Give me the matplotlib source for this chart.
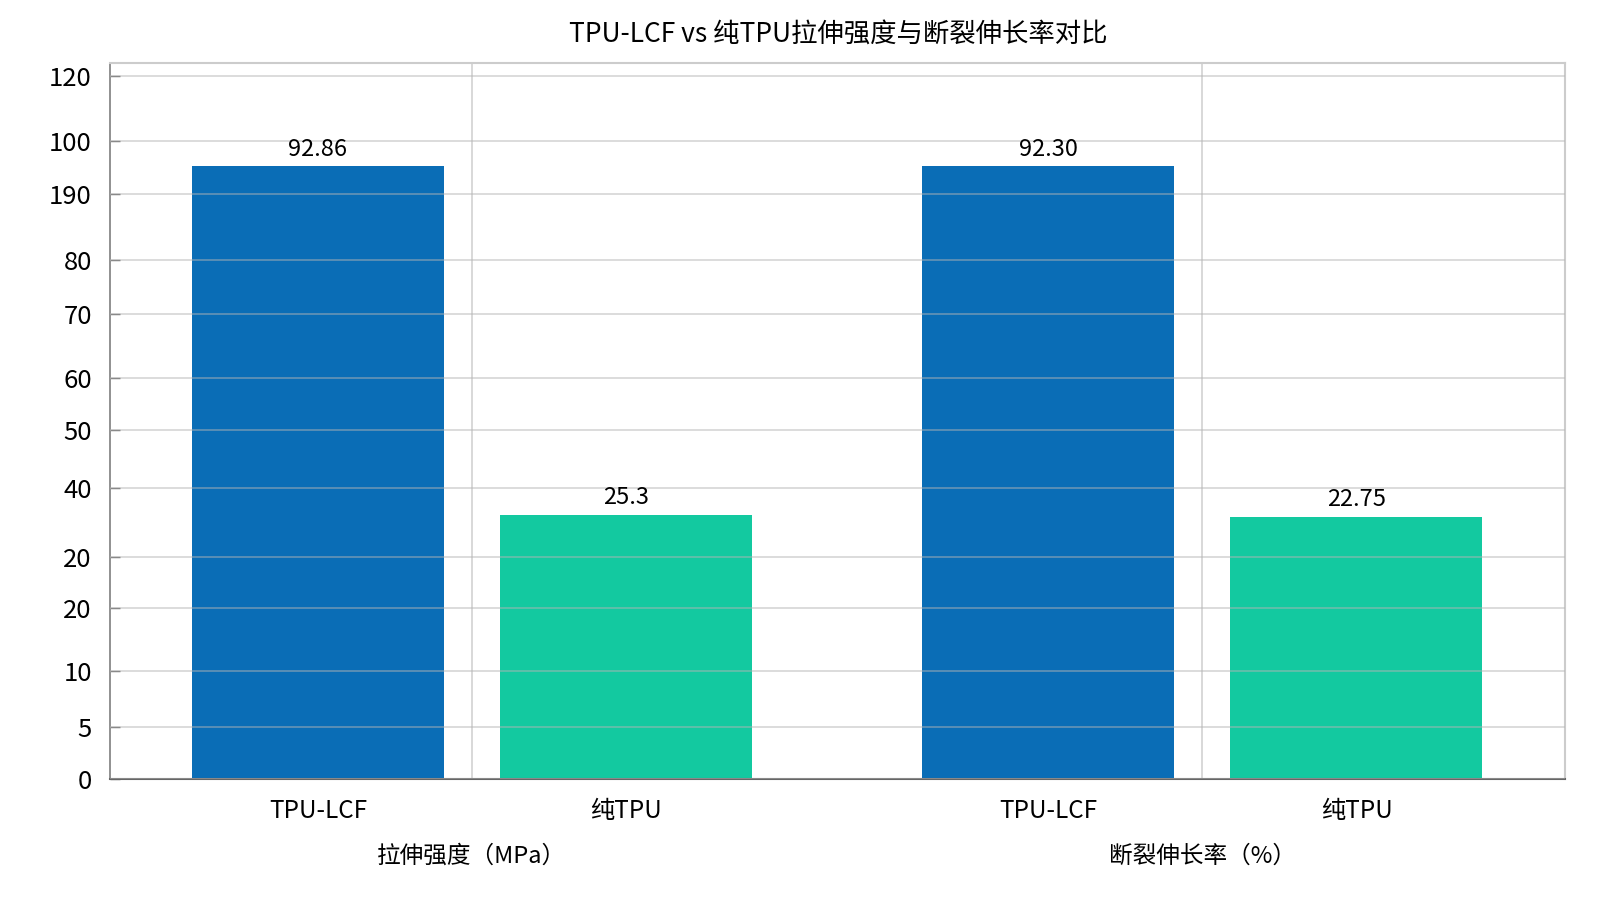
import numpy as np
import matplotlib
matplotlib.use("Agg")
import matplotlib.pyplot as plt
from matplotlib.transforms import blended_transform_factory

plt.rcParams["font.family"] = ["Noto Sans CJK SC", "DejaVu Sans"]

categories = ["TPU-LCF", "纯TPU", "TPU-LCF", "纯TPU"]
bar_heights = [104.7, 45.2, 104.7, 44.8]
value_labels = ["92.86", "25.3", "92.30", "22.75"]
groups = ["拉伸强度（MPa）", "断裂伸长率（%）"]

# y axis ticks as printed in the reference
ytick_pos = [0, 8.9, 18.5, 29.3, 38.0, 49.7, 59.7, 68.5, 79.5, 88.6, 100, 109, 120]
ytick_labels = ["0", "5", "10", "20", "20", "40", "50", "60", "70", "80", "190", "100", "120"]

BLUE = "#0A6DB6"
GREEN = "#13C9A0"
colors = [BLUE, GREEN, BLUE, GREEN]

group_gap = 2.371
x = np.array([0, 1, group_gap, group_gap + 1])

fig = plt.figure(figsize=(16, 9), dpi=100)
fig.patch.set_facecolor("white")
ax = fig.add_axes([0.06875, 0.1339, 0.9094, 0.7961])

ax.bar(x, bar_heights, width=0.818, color=colors, zorder=2)

# horizontal grid over bars, vertical separators inside each group
for yp in ytick_pos:
    ax.axhline(yp, color="#b4b4b4", alpha=0.55, lw=1.2, zorder=3)
for xs in (0.5, group_gap + 0.5):
    ax.axvline(xs, color="#d2d2d2", lw=1.2, zorder=1)

for xi, h, lab in zip(x, bar_heights, value_labels):
    ax.annotate(lab, (xi, h), xytext=(0, 4), textcoords="offset points",
                ha="center", va="bottom", fontsize=17, zorder=4)

ax.set_xlim(-0.675, 4.048)
ax.set_ylim(0, 122.3)
ax.set_yticks(ytick_pos)
ax.set_yticklabels(ytick_labels)
ax.set_xticks(x)
ax.set_xticklabels(categories)
ax.tick_params(axis="y", direction="in", length=7, width=1, color="#666666",
               pad=13, labelsize=18.5)
ax.tick_params(axis="x", direction="in", length=5, width=1, color="#555555",
               pad=13.5, labelsize=17.5)

for side in ("top", "right"):
    ax.spines[side].set_color("#cccccc")
    ax.spines[side].set_linewidth(1.5)
ax.spines["left"].set_color("#888888")
ax.spines["left"].set_linewidth(1.3)
ax.spines["bottom"].set_color("#666666")
ax.spines["bottom"].set_linewidth(1.5)

trans = blended_transform_factory(ax.transData, fig.transFigure)
for cx, g in zip((0.5, group_gap + 0.5), groups):
    ax.text(cx, 0.049, g, transform=trans, ha="center", va="center", fontsize=17)

fig.text(0.5236, 0.962, "TPU-LCF vs 纯TPU拉伸强度与断裂伸长率对比",
         ha="center", va="center", fontsize=19)

fig.savefig("out.png", dpi=100)
